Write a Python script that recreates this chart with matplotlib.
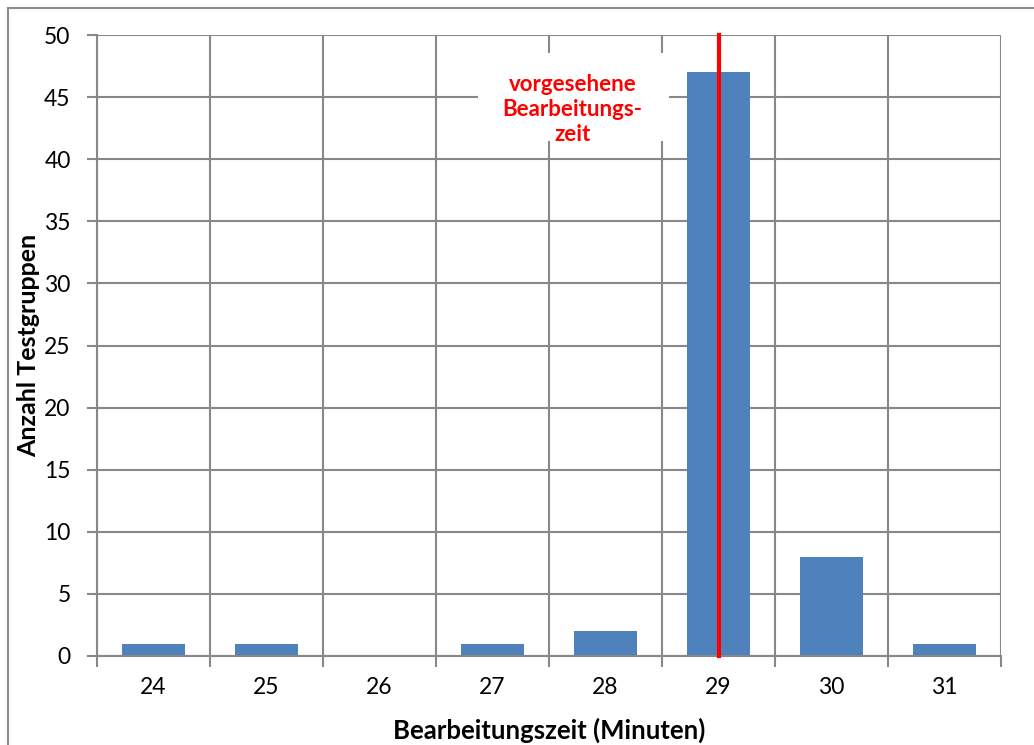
import numpy as np
import matplotlib.pyplot as plt
from matplotlib.patches import Rectangle

# --- DATA ---
minutes = ["24", "25", "26", "27", "28", "29", "30", "31"]
counts = [1, 1, 0, 1, 2, 47, 8, 1]
planned_idx = 5  # "29" = vorgesehene Bearbeitungszeit

GRID = "#888888"
BAR = "#4F81BD"

plt.rcParams['font.family'] = ['Lato', 'DejaVu Sans']

fig = plt.figure(figsize=(10.34, 7.45), dpi=100)
ax = fig.add_axes([97 / 1034, 89 / 745, 904 / 1034, 621 / 745])

x = np.arange(len(minutes))
ax.bar(x, counts, width=0.55, color=BAR, zorder=3)

ax.set_xlim(-0.5, len(minutes) - 0.5)
ax.set_ylim(0, 50)
ax.set_yticks(np.arange(0, 51, 5))
ax.set_xticks(x)
ax.set_xticklabels(minutes)
ax.set_xticks(np.arange(-0.5, len(minutes)), minor=True)

ax.grid(True, axis='y', color=GRID, linewidth=1.5, zorder=0)
ax.grid(True, axis='x', which='minor', color=GRID, linewidth=1.5, zorder=0)
ax.tick_params(axis='x', which='major', length=0, pad=15, labelsize=16.5)
ax.tick_params(axis='x', which='minor', length=8, width=1.5, color=GRID)
ax.tick_params(axis='y', length=7, width=1.5, color=GRID, pad=12, labelsize=16.5)

for s in ['top', 'right']:
    ax.spines[s].set_visible(False)
for s in ['left', 'bottom']:
    ax.spines[s].set_color(GRID)
    ax.spines[s].set_linewidth(1.5)
    ax.spines[s].set_zorder(4)

# red marker line for planned time
ax.axvline(x[planned_idx], color='#FF0000', linewidth=3, zorder=5, clip_on=False)

# white label box behind the annotation
ax.add_patch(Rectangle((2.87, 41.5), 1.69, 7.05, facecolor='white',
                       edgecolor='none', zorder=2.5))
ax.text(3.71, 44.0, "vorgesehene\nBearbeitungs-\nzeit", color='#FF0000',
        fontsize=16, fontweight='bold', ha='center', va='center',
        linespacing=1.25, zorder=6)

ax.set_xlabel("Bearbeitungszeit (Minuten)", fontsize=18.5, fontweight='bold', labelpad=14)
ax.set_ylabel("Anzahl Testgruppen", fontsize=18, fontweight='bold', labelpad=3)

# outer chart frame (cut off on right/bottom)
fig.patches.append(Rectangle((8 / 1034, -0.1), 1.2, (745 - 8) / 745 + 0.1,
                             transform=fig.transFigure, fill=False,
                             edgecolor='#8c8c8c', linewidth=1.5))

fig.savefig("out.png", dpi=100)
